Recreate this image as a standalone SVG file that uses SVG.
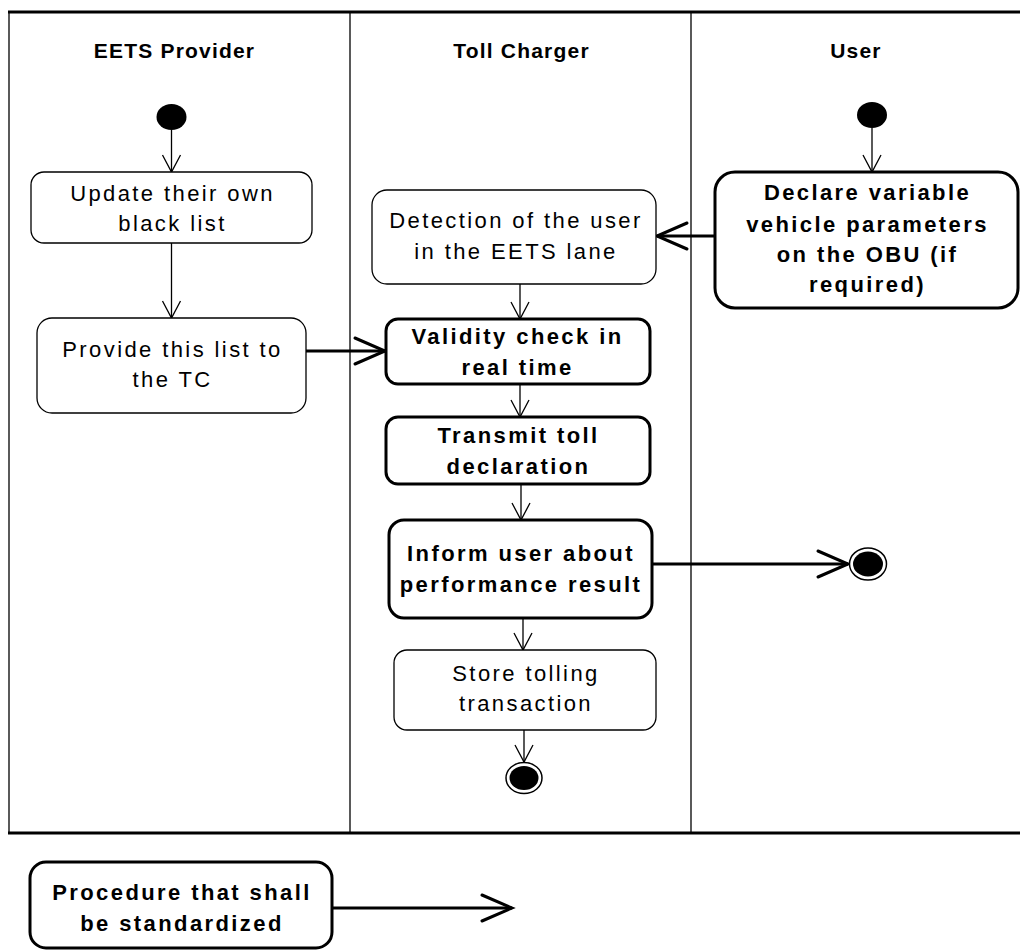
<svg xmlns="http://www.w3.org/2000/svg" width="1020" height="950" viewBox="0 0 1020 950">
<style>
  .lane { stroke:#000; fill:none; }
  .box { fill:#fff; stroke:#000; stroke-width:1.3; }
  .bbox { fill:#fff; stroke:#000; stroke-width:3; }
  text { font-family:"Liberation Sans", Arial, sans-serif; font-size:22px; fill:#000; text-anchor:middle; letter-spacing:2.4px; }
  .b { font-weight:bold; }
  .hdr { font-weight:bold; font-size:21px; letter-spacing:1.2px; }
  .thin { stroke:#000; stroke-width:1.3; fill:none; marker-end:url(#aThin); }
  .thick { stroke:#000; stroke-width:3; fill:none; marker-end:url(#aThick); }
</style>
<defs>
  <marker id="aThin" markerUnits="userSpaceOnUse" markerWidth="40" markerHeight="40" refX="0" refY="0" viewBox="-20 -20 40 40" orient="auto" overflow="visible">
    <path d="M -17 -9 L 0 0 L -17 9" fill="none" stroke="#000" stroke-width="1.3"/>
  </marker>
  <marker id="aThick" markerUnits="userSpaceOnUse" markerWidth="80" markerHeight="80" refX="0" refY="0" viewBox="-40 -40 80 80" orient="auto" overflow="visible">
    <path d="M -30 -13 L 0 0 L -30 13" fill="none" stroke="#000" stroke-width="3" stroke-linecap="round"/>
  </marker>
</defs>
<rect width="1020" height="950" fill="#fff"/>

<g id="swimlanes">
  <line class="lane" x1="8" y1="12" x2="1020" y2="12" stroke-width="3"/>
  <line class="lane" x1="8" y1="833" x2="1020" y2="833" stroke-width="3"/>
  <line class="lane" x1="9" y1="12" x2="9" y2="833" stroke-width="1.3"/>
  <line class="lane" x1="350" y1="12" x2="350" y2="833" stroke-width="1.3"/>
  <line class="lane" x1="691" y1="12" x2="691" y2="833" stroke-width="1.3"/>
  <text class="hdr" x="174.5" y="58">EETS Provider</text>
  <text class="hdr" x="521.5" y="58">Toll Charger</text>
  <text class="hdr" x="856" y="58">User</text>
</g>

<g id="connectors">
  <line class="thin" x1="171.5" y1="130" x2="171.5" y2="172"/>
  <line class="thin" x1="171.5" y1="243" x2="171.5" y2="318"/>
  <line class="thick" x1="306" y1="351" x2="385" y2="351"/>
  <line class="thin" x1="520" y1="284" x2="520" y2="319"/>
  <line class="thin" x1="520" y1="384" x2="520" y2="417"/>
  <line class="thin" x1="521" y1="484" x2="521" y2="520"/>
  <line class="thick" x1="652" y1="564" x2="848" y2="564"/>
  <line class="thin" x1="523" y1="618" x2="523" y2="650"/>
  <line class="thin" x1="524" y1="730" x2="524" y2="762"/>
  <line class="thin" x1="872" y1="128" x2="872" y2="172"/>
  <line class="thick" x1="715" y1="236" x2="657" y2="236"/>
  <line class="thick" x1="332" y1="908" x2="512" y2="908"/>
</g>

<g id="start-eets">
  <ellipse cx="171.5" cy="117" rx="15" ry="13" fill="#000"/>
</g>
<g id="start-user">
  <ellipse cx="872" cy="115" rx="15" ry="13" fill="#000"/>
</g>

<g id="update-blacklist">
  <rect class="box" x="31" y="172" width="281" height="71" rx="13"/>
  <text x="172.5" y="201">Update their own</text>
  <text x="172.5" y="231">black list</text>
</g>
<g id="provide-list">
  <rect class="box" x="37" y="318" width="269" height="95" rx="15"/>
  <text x="172.5" y="357">Provide this list to</text>
  <text x="172.5" y="387">the TC</text>
</g>

<g id="detection">
  <rect class="box" x="372" y="190" width="284" height="94" rx="15"/>
  <text x="516" y="228">Detection of the user</text>
  <text x="516" y="259">in the EETS lane</text>
</g>
<g id="validity-check">
  <rect class="bbox" x="386" y="319" width="264" height="65" rx="12"/>
  <text class="b" x="517.5" y="344">Validity check in</text>
  <text class="b" x="517.5" y="375">real time</text>
</g>
<g id="transmit-declaration">
  <rect class="bbox" x="386" y="417" width="264" height="67" rx="12"/>
  <text class="b" x="518.5" y="443">Transmit toll</text>
  <text class="b" x="518.5" y="474">declaration</text>
</g>
<g id="inform-user">
  <rect class="bbox" x="389" y="520" width="263" height="98" rx="15"/>
  <text class="b" x="521" y="561">Inform user about</text>
  <text class="b" x="521" y="592">performance result</text>
</g>
<g id="store-transaction">
  <rect class="box" x="394" y="650" width="262" height="80" rx="13"/>
  <text x="526" y="681">Store tolling</text>
  <text x="526" y="711">transaction</text>
</g>
<g id="end-tc">
  <ellipse cx="524" cy="778" rx="18" ry="15.5" fill="#fff" stroke="#000" stroke-width="1.5"/>
  <ellipse cx="524" cy="778" rx="14.5" ry="12" fill="#000"/>
</g>

<g id="declare-parameters">
  <rect class="bbox" x="715" y="172" width="303" height="136" rx="20"/>
  <text class="b" x="867.5" y="200">Declare variable</text>
  <text class="b" x="867.5" y="231.5">vehicle parameters</text>
  <text class="b" x="867.5" y="262">on the OBU (if</text>
  <text class="b" x="867.5" y="292">required)</text>
</g>
<g id="end-user">
  <ellipse cx="868" cy="564" rx="18.5" ry="16" fill="#fff" stroke="#000" stroke-width="1.5"/>
  <ellipse cx="868" cy="564" rx="15" ry="12.5" fill="#000"/>
</g>

<g id="legend">
  <rect class="bbox" x="30" y="862" width="302" height="86" rx="16"/>
  <text class="b" x="182" y="900">Procedure that shall</text>
  <text class="b" x="182" y="931">be standardized</text>
</g>
</svg>
